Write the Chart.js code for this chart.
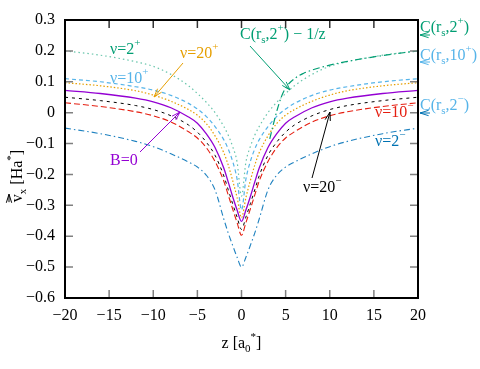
<!DOCTYPE html>
<html>
<head>
<meta charset="utf-8">
<script src="https://cdn.jsdelivr.net/npm/chart.js@4.4.1/dist/chart.umd.min.js"></script>
<style>
  body { margin: 0; background: #fff; }
  #wrap { width: 480px; height: 369px; }
</style>
</head>
<body>
<div id="wrap"><canvas id="myChart" width="480" height="369"></canvas></div>
<script>
// z positions (a0*) at which the curves were read
var zVals = [-20,-16,-12,-10,-8,-6,-5,-4,-3,-2,-1.5,-1,-0.5,0,0.5,1,1.5,2,3,4,5,6,8,10,12,16,20];

var nu2p  = [0.200,0.186,0.165,0.150,0.124,0.087,0.062,0.034,0.000,-0.045,-0.073,-0.110,-0.160,-0.270,-0.160,-0.110,-0.073,-0.045,0.000,0.034,0.062,0.087,0.124,0.150,0.165,0.186,0.200];
var nu10p = [0.110,0.100,0.084,0.073,0.056,0.030,0.012,-0.012,-0.045,-0.088,-0.118,-0.158,-0.215,-0.315,-0.215,-0.158,-0.118,-0.088,-0.045,-0.012,0.012,0.030,0.056,0.073,0.084,0.100,0.110];
var nu20p = [0.097,0.087,0.071,0.057,0.037,0.010,-0.008,-0.035,-0.075,-0.130,-0.170,-0.220,-0.275,-0.340,-0.275,-0.220,-0.170,-0.130,-0.075,-0.035,-0.008,0.010,0.037,0.057,0.071,0.087,0.097];
var b0    = [0.072,0.062,0.047,0.035,0.016,-0.014,-0.034,-0.068,-0.113,-0.180,-0.225,-0.272,-0.315,-0.352,-0.315,-0.272,-0.225,-0.180,-0.113,-0.068,-0.034,-0.014,0.016,0.035,0.047,0.062,0.072];
var nu20m = [0.050,0.039,0.023,0.010,-0.010,-0.040,-0.063,-0.095,-0.138,-0.205,-0.250,-0.295,-0.338,-0.378,-0.338,-0.295,-0.250,-0.205,-0.138,-0.095,-0.063,-0.040,-0.010,0.010,0.023,0.039,0.050];
var nu10m = [0.032,0.020,0.003,-0.010,-0.030,-0.062,-0.082,-0.113,-0.158,-0.222,-0.267,-0.312,-0.356,-0.397,-0.356,-0.312,-0.267,-0.222,-0.158,-0.113,-0.082,-0.062,-0.030,-0.010,0.003,0.020,0.032];
var nu2m  = [-0.050,-0.068,-0.093,-0.110,-0.133,-0.160,-0.176,-0.202,-0.250,-0.345,-0.390,-0.430,-0.468,-0.500,-0.468,-0.430,-0.390,-0.345,-0.250,-0.202,-0.176,-0.160,-0.133,-0.110,-0.093,-0.068,-0.050];

// C(rs,2+) - 1/z, right side only
var zC     = [3.2,3.5,4,4.5,5,6,7,8,10,12,16,20];
var cMinus = [-0.085,-0.050,0.005,0.050,0.080,0.110,0.127,0.138,0.154,0.166,0.185,0.200];

var xTicks = [-20,-15,-10,-5,0,5,10,15,20];
var yTicks = [-0.6,-0.5,-0.4,-0.3,-0.2,-0.1,0,0.1,0.2,0.3];

function pts(xs, ys){
  var out = [];
  for (var i = 0; i < xs.length; i++) out.push({x: xs[i], y: ys[i]});
  return out;
}

function serie(xs, ys, color, dash, w){
  return {
    data: pts(xs, ys),
    borderColor: color,
    borderDash: dash,
    borderWidth: w || 1.2,
    pointRadius: 0,
    fill: false,
    cubicInterpolationMode: 'monotone'
  };
}

var SERIF = '"Liberation Serif", "DejaVu Serif", serif';

function rich(ctx, x, y, parts, align){
  var w = 0, i;
  for (i = 0; i < parts.length; i++){
    ctx.font = (parts[i][1] === 'n' ? 16 : 11) + 'px ' + SERIF;
    w += ctx.measureText(parts[i][0]).width;
  }
  var cx = align === 'center' ? x - w / 2 : x;
  ctx.textAlign = 'left';
  ctx.textBaseline = 'alphabetic';
  for (i = 0; i < parts.length; i++){
    var k = parts[i][1];
    ctx.font = (k === 'n' ? 16 : 11) + 'px ' + SERIF;
    var dy = k === 'sup' ? -8 : (k === 'sub' ? 4 : 0);
    ctx.fillText(parts[i][0], cx, y + dy);
    cx += ctx.measureText(parts[i][0]).width;
  }
  return w;
}

function arrow(ctx, x1, y1, x2, y2, color){
  var ang = Math.atan2(y2 - y1, x2 - x1), h = 9;
  ctx.strokeStyle = color;
  ctx.lineWidth = 1;
  ctx.setLineDash([]);
  ctx.beginPath();
  ctx.moveTo(x1, y1); ctx.lineTo(x2, y2);
  ctx.moveTo(x2, y2); ctx.lineTo(x2 - h * Math.cos(ang - 0.3), y2 - h * Math.sin(ang - 0.3));
  ctx.moveTo(x2, y2); ctx.lineTo(x2 - h * Math.cos(ang + 0.3), y2 - h * Math.sin(ang + 0.3));
  ctx.stroke();
}

var deco = {
  id: 'deco',
  afterDraw: function(chart){
    var ctx = chart.ctx, a = chart.chartArea, x = chart.scales.x, y = chart.scales.y;
    ctx.save();
    ctx.setLineDash([]);
    // inner ticks
    ctx.lineWidth = 1.5;
    ctx.strokeStyle = '#808080';
    yTicks.forEach(function(v){
      var py = y.getPixelForValue(v);
      ctx.beginPath();
      ctx.moveTo(a.left, py); ctx.lineTo(a.left + 8, py);
      ctx.moveTo(a.right, py); ctx.lineTo(a.right - 8, py);
      ctx.stroke();
    });
    xTicks.forEach(function(v){
      var px = x.getPixelForValue(v);
      ctx.strokeStyle = '#808080';
      ctx.beginPath();
      ctx.moveTo(px, a.bottom); ctx.lineTo(px, a.bottom - 8);
      ctx.stroke();
      ctx.strokeStyle = '#333';
      ctx.beginPath();
      ctx.moveTo(px, a.top); ctx.lineTo(px, a.top + 8);
      ctx.stroke();
    });
    // frame
    ctx.strokeStyle = '#000';
    ctx.lineWidth = 2;
    ctx.strokeRect(a.left, a.top, a.right - a.left, a.bottom - a.top);

    // axis titles
    ctx.fillStyle = '#000';
    var w = rich(ctx, 241.5, 348, [['z [a','n'],['0','sub'],['*','sup'],[']','n']], 'center');
    ctx.save();
    ctx.translate(22, 176);
    ctx.rotate(-Math.PI / 2);
    rich(ctx, 0, 0, [['v','n'],['x','sub'],[' [Ha','n'],['*','sup'],[']','n']], 'center');
    // vector arrow over v
    ctx.font = '16px ' + SERIF;
    var full = 0;
    [['v',16],['x',11],[' [Ha',16],['*',11],[']',16]].forEach(function(p){
      ctx.font = p[1] + 'px ' + SERIF; full += ctx.measureText(p[0]).width;
    });
    var vx = -full / 2;
    arrow(ctx, vx, -13, vx + 8, -13, '#000');
    ctx.restore();

    // curve labels
    ctx.fillStyle = '#009e73';
    rich(ctx, 110, 54, [['ν=2','n'],['+','sup']]);
    ctx.fillStyle = '#e69f00';
    rich(ctx, 180, 58, [['ν=20','n'],['+','sup']]);
    arrow(ctx, 183, 63, 154, 97, '#e69f00');
    ctx.fillStyle = '#56b4e9';
    rich(ctx, 110, 83, [['ν=10','n'],['+','sup']]);
    ctx.fillStyle = '#9400d3';
    rich(ctx, 110, 165, [['B=0','n']]);
    arrow(ctx, 140, 152, 180, 112, '#9400d3');
    ctx.fillStyle = '#009e73';
    rich(ctx, 240, 39, [['C(r','n'],['s','sub'],[',2','n'],['+','sup'],[') − 1/z','n']]);
    arrow(ctx, 250, 46, 290, 90, '#009e73');
    ctx.fillStyle = '#e51e10';
    rich(ctx, 375, 117, [['ν=10','n'],['−','sup']]);
    ctx.fillStyle = '#0072b2';
    rich(ctx, 375, 146, [['ν=2','n'],['−','sup']]);
    ctx.fillStyle = '#000';
    rich(ctx, 303, 192, [['ν=20','n'],['−','sup']]);
    arrow(ctx, 312, 178, 330, 112, '#000');

    // right-side asymptote labels
    ctx.fillStyle = '#009e73';
    rich(ctx, 420, 32, [['C(r','n'],['s','sub'],[',2','n'],['+','sup'],[')','n']]);
    arrow(ctx, 430, 35, 420, 35, '#009e73');
    ctx.fillStyle = '#56b4e9';
    rich(ctx, 420, 60, [['C(r','n'],['s','sub'],[',10','n'],['+','sup'],[')','n']]);
    arrow(ctx, 430, 62, 420, 62, '#56b4e9');
    rich(ctx, 420, 110, [['C(r','n'],['s','sub'],[',2','n'],['−','sup'],[')','n']]);
    arrow(ctx, 430, 113, 420, 113, '#0072b2');
    ctx.restore();
  }
};

var ctx = document.getElementById('myChart');
new Chart(ctx, {
  type: 'line',
  data: {
    datasets: [
      serie(zVals, nu2p,  'rgba(0,158,115,0.6)', [1.5,3], 1.2),
      serie(zC,    cMinus,'#009e73', [7,3,1.5,3], 1.2),
      serie(zVals, nu10p, '#56b4e9', [4,3], 1.2),
      serie(zVals, nu20p, '#e69f00', [1.5,2], 1.2),
      serie(zVals, b0,    '#9400d3', [], 1.3),
      serie(zVals, nu20m, '#000000', [3,4], 1),
      serie(zVals, nu10m, '#e51e10', [6,3], 1.1),
      serie(zVals, nu2m,  '#1f82c0', [6,3,1.5,3], 1.1)
    ]
  },
  options: {
    responsive: false,
    animation: false,
    events: [],
    layout: { padding: { left: 0, right: 62, top: 20, bottom: 0 } },
    plugins: { legend: { display: false }, tooltip: { enabled: false } },
    scales: {
      x: {
        type: 'linear', min: -20, max: 20,
        afterFit: function(s){ s.height = 71; },
        afterBuildTicks: function(s){ s.ticks = xTicks.map(function(v){ return {value: v}; }); },
        grid: { display: false, drawTicks: false },
        border: { display: false },
        ticks: {
          padding: 8, color: '#000', maxRotation: 0,
          font: { family: SERIF, size: 16 },
          callback: function(v){ return String(v).replace('-', '−'); }
        }
      },
      y: {
        type: 'linear', min: -0.6, max: 0.3,
        afterFit: function(s){ s.width = 65; },
        afterBuildTicks: function(s){ s.ticks = yTicks.map(function(v){ return {value: v}; }); },
        grid: { display: false, drawTicks: false },
        border: { display: false },
        ticks: {
          padding: 10, color: '#000',
          font: { family: SERIF, size: 16 },
          callback: function(v){ return v === 0 ? '0' : v.toFixed(1).replace('-', '−'); }
        }
      }
    }
  },
  plugins: [deco]
});
</script>
</body>
</html>
